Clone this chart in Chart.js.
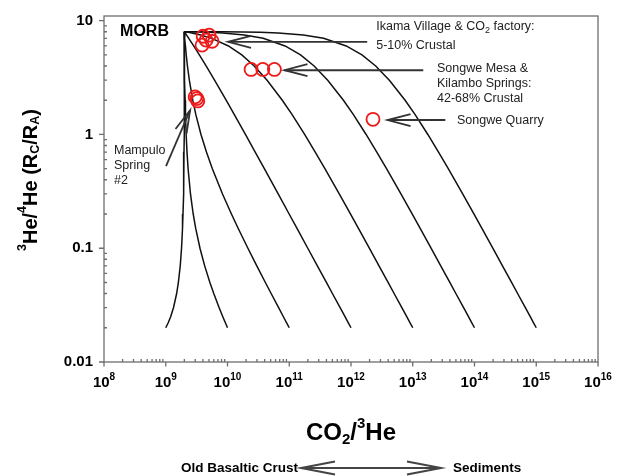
<!DOCTYPE html>
<html><head><meta charset="utf-8">
<script src="https://cdn.jsdelivr.net/npm/chart.js@4/dist/chart.umd.min.js"></script>
<style>html,body{margin:0;padding:0;background:#fff}</style>
</head><body>
<canvas id="c" width="618" height="476"></canvas>
<script>
// ---- mixing curves: shared 3He/4He levels (Rc/Ra) and CO2/3He values per crustal end-member ----
const mixRa = [8, 7.995, 7.98, 7.95, 7.9, 7.8, 7.5, 7, 6, 5, 4, 3, 2, 1.5, 1, 0.7, 0.5, 0.3, 0.2, 0.15, 0.1, 0.07, 0.05, 0.04, 0.03, 0.025, 0.022, 0.02];
const mixX_1e9 = [2e9, 2e9, 2e9, 2e9, 2e9, 1.9999e9, 1.9998e9, 1.9996e9, 1.9992e9, 1.9985e9, 1.9975e9, 1.9958e9, 1.9925e9, 1.9891e9, 1.9825e9, 1.9739e9, 1.9624e9, 1.9357e9, 1.9023e9, 1.8688e9, 1.802e9, 1.7161e9, 1.6015e9, 1.5013e9, 1.3342e9, 1.2005e9, 1.0911e9, 1e9];
const mixX_1e10 = [2e9, 2e9, 2.0001e9, 2.0001e9, 2.0003e9, 2.0005e9, 2.0013e9, 2.0029e9, 2.0067e9, 2.012e9, 2.02e9, 2.033e9, 2.06e9, 2.087e9, 2.14e9, 2.209e9, 2.301e9, 2.515e9, 2.782e9, 3.05e9, 3.584e9, 4.271e9, 5.188e9, 5.99e9, 7.327e9, 8.396e9, 9.271e9, 1e10];
const mixX_1e11 = [2e9, 2.0002e9, 2.0006e9, 2.0015e9, 2.0031e9, 2.0063e9, 2.0164e9, 2.0351e9, 2.0819e9, 2.1474e9, 2.2457e9, 2.4093e9, 2.7369e9, 3.0643e9, 3.7199e9, 4.5617e9, 5.6838e9, 8.3043e9, 1.1578e10, 1.4857e10, 2.1405e10, 2.9825e10, 4.1053e10, 5.0878e10, 6.7251e10, 8.0351e10, 9.1068e10, 1e11];
const mixX_1e12 = [2e9, 2.0016e9, 2.0063e9, 2.0157e9, 2.0317e9, 2.0641e9, 2.1668e9, 2.3574e9, 2.8337e9, 3.501e9, 4.502e9, 6.1686e9, 9.504e9, 1.2838e10, 1.9515e10, 2.8088e10, 3.9515e10, 6.6201e10, 9.9535e10, 1.3293e11, 1.9961e11, 2.8536e11, 3.997e11, 4.9975e11, 6.665e11, 7.999e11, 9.0904e11, 1e12];
const mixX_1e13 = [2e9, 2.0157e9, 2.0628e9, 2.1576e9, 2.3172e9, 2.6426e9, 3.6707e9, 5.5803e9, 1.0352e10, 1.7037e10, 2.7065e10, 4.3762e10, 7.7175e10, 1.1058e11, 1.7746e11, 2.6335e11, 3.7782e11, 6.4517e11, 9.791e11, 1.3136e12, 1.9817e12, 2.8407e12, 3.9862e12, 4.9885e12, 6.659e12, 7.9954e12, 9.0888e12, 1e13];
const mixX_1e14 = [2e9, 2.1567e9, 2.6281e9, 3.576e9, 5.173e9, 8.427e9, 1.871e10, 3.781e10, 8.554e10, 1.524e11, 2.527e11, 4.197e11, 7.539e11, 1.088e12, 1.757e12, 2.616e12, 3.761e12, 6.435e12, 9.775e12, 1.3121e13, 1.9803e13, 2.8394e13, 3.9851e13, 4.9876e13, 6.6584e13, 7.995e13, 9.0886e13, 1e14];
const mixX_1e15 = [2e9, 3.567e9, 8.281e9, 1.776e10, 3.373e10, 6.627e10, 1.691e11, 3.601e11, 8.374e11, 1.506e12, 2.509e12, 4.179e12, 7.521e12, 1.0862e13, 1.7552e13, 2.6142e13, 3.7592e13, 6.4332e13, 9.7732e13, 1.3119e14, 1.9801e14, 2.8393e14, 3.985e14, 4.9875e14, 6.6583e14, 7.995e14, 9.0886e14, 1e15];

// ---- samples ----
const ikamaX = [4.03e9, 5.04e9, 4.5e9, 5.63e9, 3.87e9];
const ikamaY = [7.3, 7.46, 6.75, 6.6, 6.1];
const songweMesaX = [2.41e10, 3.73e10, 5.75e10];
const songweMesaY = [3.73, 3.73, 3.73];
const mampuloX = [2.99e9, 3.3e9, 3.18e9];
const mampuloY = [2.14, 1.97, 2.07];
const quarryX = [2.27e12];
const quarryY = [1.36];

// ---- ticks ----
const xTickExponents = [8, 9, 10, 11, 12, 13, 14, 15, 16];
const yTickValues = [10, 1, 0.1, 0.01];
const yTickLabels = ['10', '1', '0.1', '0.01'];

const FONT = '"Liberation Sans", Arial, Helvetica, sans-serif';
const pts = (xs, ys) => xs.map((x, i) => ({x, y: ys[i]}));

const curves = [mixX_1e9, mixX_1e10, mixX_1e11, mixX_1e12, mixX_1e13, mixX_1e14, mixX_1e15];
const datasets = [];
const circleStyle = {pointStyle: 'circle', pointRadius: 6.5, pointHoverRadius: 6.5, pointBorderColor: '#ee1a1a', pointBackgroundColor: 'rgba(0,0,0,0)', pointBorderWidth: 1.8, showLine: false, order: 0};
datasets.push(Object.assign({label: 'Ikama', data: pts(ikamaX, ikamaY)}, circleStyle));
datasets.push(Object.assign({label: 'Songwe Mesa', data: pts(songweMesaX, songweMesaY)}, circleStyle));
datasets.push(Object.assign({label: 'Mampulo', data: pts(mampuloX, mampuloY)}, circleStyle));
datasets.push(Object.assign({label: 'Quarry', data: pts(quarryX, quarryY)}, circleStyle));
curves.forEach((cx, i) => datasets.push({label: 'mix' + i, data: pts(cx, mixRa), showLine: true, borderColor: '#111', borderWidth: 1.5, pointRadius: 0, tension: 0, order: 1}));

// annotations in data coordinates
const labels = [
  {x: 1.82e8, y: 8.09, parts: [{t: 'MORB', s: 16, b: true}], color: '#000'},
  {x: 2.56e12, y: 8.82, parts: [{t: 'Ikama Village & CO'}, {t: '2', s: 9, dy: 4}, {t: ' factory:'}]},
  {x: 2.56e12, y: 6.1, parts: [{t: '5-10% Crustal'}]},
  {x: 2.47e13, y: 3.8, parts: [{t: 'Songwe Mesa &'}]},
  {x: 2.47e13, y: 2.81, parts: [{t: 'Kilambo Springs:'}]},
  {x: 2.47e13, y: 2.07, parts: [{t: '42-68% Crustal'}]},
  {x: 5.2e13, y: 1.336, parts: [{t: 'Songwe Quarry'}]},
  {x: 1.45e8, y: 0.728, parts: [{t: 'Mampulo'}]},
  {x: 1.45e8, y: 0.537, parts: [{t: 'Spring'}]},
  {x: 1.45e8, y: 0.397, parts: [{t: '#2'}]}
];
const arrows = [
  {tail: [1.83e12, 6.52], tip: [1.02e10, 6.52]},
  {tail: [1.48e13, 3.67], tip: [8.36e10, 3.67]},
  {tail: [3.37e13, 1.34], tip: [3.91e12, 1.34]},
  {tail: [1.01e9, 0.526], tip: [2.48e9, 1.635]}
];

function fontOf(p, def) { return (p.b ? 'bold ' : '') + (p.s || def) + 'px ' + FONT; }
function drawRich(ctx, parts, x, y, align, defSize, defBold) {
  let w = 0;
  parts.forEach(p => { ctx.font = fontOf({b: p.b !== undefined ? p.b : defBold, s: p.s}, defSize); w += ctx.measureText(p.t).width; });
  let cx = align === 'center' ? x - w / 2 : (align === 'right' ? x - w : x);
  ctx.textAlign = 'left'; ctx.textBaseline = 'middle';
  parts.forEach(p => { ctx.font = fontOf({b: p.b !== undefined ? p.b : defBold, s: p.s}, defSize); ctx.fillText(p.t, cx, y + (p.dy || 0)); cx += ctx.measureText(p.t).width; });
}
function drawArrow(ctx, tx, ty, fx, fy, len, half) {
  const dx = fx - tx, dy = fy - ty, L = Math.hypot(dx, dy), ux = dx / L, uy = dy / L;
  ctx.beginPath(); ctx.moveTo(fx, fy); ctx.lineTo(tx, ty); ctx.stroke();
  ctx.beginPath();
  ctx.moveTo(tx + ux * len - uy * half, ty + uy * len + ux * half);
  ctx.lineTo(tx, ty);
  ctx.lineTo(tx + ux * len + uy * half, ty + uy * len - ux * half);
  ctx.stroke();
}

const axesPlugin = {
  id: 'axesPlugin',
  beforeDatasetsDraw(chart) {
    const ctx = chart.ctx, a = chart.chartArea, xs = chart.scales.x, ys = chart.scales.y;
    ctx.save();
    ctx.strokeStyle = '#6e6e6e'; ctx.lineWidth = 1.3;
    ctx.strokeRect(a.left, a.top, a.right - a.left, a.bottom - a.top);
    ctx.beginPath();
    xTickExponents.forEach(e => {
      const px = xs.getPixelForValue(Math.pow(10, e));
      ctx.moveTo(px, a.bottom); ctx.lineTo(px, a.bottom + 4.5);
      if (e < 16) for (let m = 2; m <= 9; m++) { const p = xs.getPixelForValue(m * Math.pow(10, e)); ctx.moveTo(p, a.bottom); ctx.lineTo(p, a.bottom - 3); }
    });
    yTickValues.forEach(v => {
      const py = ys.getPixelForValue(v);
      ctx.moveTo(a.left - 5, py); ctx.lineTo(a.left, py);
      if (v < 10) for (let m = 2; m <= 9; m++) { const p = ys.getPixelForValue(m * v); ctx.moveTo(a.left, p); ctx.lineTo(a.left + 3, p); }
    });
    ctx.stroke();
    // tick labels
    ctx.fillStyle = '#000';
    xTickExponents.forEach(e => {
      const px = xs.getPixelForValue(Math.pow(10, e));
      drawRich(ctx, [{t: '10'}, {t: String(e), s: 10, dy: -6}], px, a.bottom + 21, 'center', 15, true);
    });
    yTickValues.forEach((v, i) => {
      ctx.font = 'bold 15px ' + FONT; ctx.textAlign = 'right'; ctx.textBaseline = 'middle';
      ctx.fillText(yTickLabels[i], a.left - 11, ys.getPixelForValue(v));
    });
    // axis titles
    const cxm = (a.left + a.right) / 2;
    drawRich(ctx, [{t: 'CO'}, {t: '2', s: 15, dy: 7}, {t: '/'}, {t: '3', s: 15, dy: -9}, {t: 'He'}], cxm, 433, 'center', 24, true);
    ctx.save();
    ctx.translate(31, 180); ctx.rotate(-Math.PI / 2);
    drawRich(ctx, [{t: '3', s: 12.5, dy: -8}, {t: 'He/'}, {t: '4', s: 12.5, dy: -8}, {t: 'He (R'}, {t: 'C', s: 12.5, dy: 5}, {t: '/R'}, {t: 'A', s: 12.5, dy: 5}, {t: ')'}], 0, 0, 'center', 20, true);
    ctx.restore();
    // bottom direction arrow
    ctx.fillStyle = '#000';
    drawRich(ctx, [{t: 'Old Basaltic Crust'}], cxm - 53, 468, 'right', 13.5, true);
    drawRich(ctx, [{t: 'Sediments'}], cxm + 102, 468, 'left', 13.5, true);
    ctx.strokeStyle = '#444'; ctx.lineWidth = 2;
    drawArrow(ctx, cxm - 50, 468, cxm + 90, 468, 34, 6.5);
    drawArrow(ctx, cxm + 90, 468, cxm - 50, 468, 34, 6.5);
    ctx.restore();
  },
  afterDatasetsDraw(chart) {
    const ctx = chart.ctx, xs = chart.scales.x, ys = chart.scales.y;
    ctx.save();
    ctx.strokeStyle = '#333'; ctx.lineWidth = 1.8;
    arrows.forEach(ar => {
      drawArrow(ctx, xs.getPixelForValue(ar.tip[0]), ys.getPixelForValue(ar.tip[1]), xs.getPixelForValue(ar.tail[0]), ys.getPixelForValue(ar.tail[1]), 23, 6);
    });
    labels.forEach(l => {
      ctx.fillStyle = l.color || '#222';
      drawRich(ctx, l.parts, xs.getPixelForValue(l.x), ys.getPixelForValue(l.y), 'left', 12.5, false);
    });
    ctx.restore();
  }
};

new Chart(document.getElementById('c'), {
  type: 'scatter',
  data: {datasets},
  options: {
    responsive: false, animation: false, devicePixelRatio: 1,
    layout: {padding: {left: 104, right: 20, top: 16, bottom: 114}},
    plugins: {legend: {display: false}, tooltip: {enabled: false}},
    scales: {
      x: {type: 'logarithmic', min: 1e8, max: 1e16, display: false},
      y: {type: 'logarithmic', min: 0.01, max: 11, display: false}
    }
  },
  plugins: [axesPlugin]
});
</script>
</body></html>
